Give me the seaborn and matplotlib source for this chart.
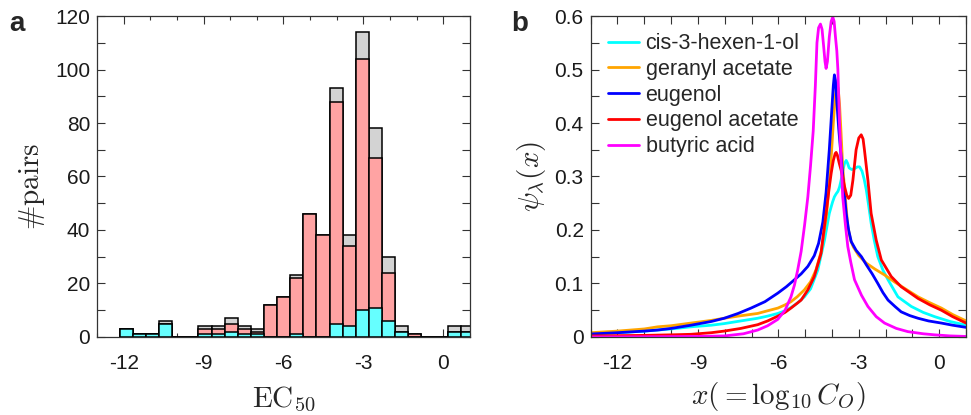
import numpy as np
import pandas as pd
import seaborn as sns
import matplotlib.pyplot as plt
from matplotlib.ticker import MultipleLocator

# ---- panel a: histogram of EC50 (bin counts) ----
bin_edges = np.linspace(-12.15, 1.15, 28)
count_all = [3, 1, 1, 6, 0, 0, 4, 4, 7, 4, 3, 12, 15, 23, 46, 38, 93, 38, 114, 78, 30, 4, 1, 0, 0, 4, 4]
count_mid = [3, 1, 1, 5, 0, 0, 3, 3, 5, 3, 2, 12, 15, 22, 46, 38, 88, 34, 104, 67, 24, 2, 1, 0, 0, 2, 2]
count_low = [3, 1, 1, 5, 0, 0, 1, 1, 2, 1, 1, 0, 0, 1, 0, 0, 5, 4, 10, 11, 6, 2, 0, 0, 0, 2, 2]

# ---- panel b: tuning curves ----
names = ["cis-3-hexen-1-ol", "geranyl acetate", "eugenol", "eugenol acetate", "butyric acid"]
colors = ["#00ffff", "#ffa500", "#0000ff", "#ff0000", "#ff00ff"]

cis_x = [-13, -12, -11, -10.5, -10, -9.26, -8.5, -8.02, -7.4, -6.77, -6.4, -6.02, -5.75, -5.53, -5.3,
         -5.03, -4.8, -4.53, -4.28, -4.1, -3.98, -3.91, -3.84, -3.78, -3.72, -3.66, -3.6, -3.53, -3.47,
         -3.42, -3.36, -3.26, -3.15, -3.05, -2.97, -2.88, -2.8, -2.72, -2.63, -2.54, -2.42, -2.29, -2.1,
         -1.91, -1.54, -1.04, -0.6, -0.17, 0.4, 1.0]
cis_y = [0.005, 0.008, 0.011, 0.013, 0.015, 0.019, 0.022, 0.025, 0.03, 0.035, 0.039, 0.044, 0.049, 0.055,
         0.063, 0.075, 0.09, 0.125, 0.181, 0.231, 0.252, 0.262, 0.268, 0.272, 0.28, 0.293, 0.31, 0.325,
         0.330, 0.325, 0.316, 0.313, 0.315, 0.318, 0.318, 0.31, 0.295, 0.275, 0.245, 0.213, 0.18, 0.150,
         0.125, 0.107, 0.075, 0.057, 0.046, 0.038, 0.029, 0.022]

ger_x = [-13, -12, -11, -10.5, -10, -9.26, -8.5, -8.02, -7.5, -6.77, -6.4, -6.02, -5.75, -5.53, -5.3,
         -5.03, -4.8, -4.6, -4.4, -4.2, -4.05, -3.95, -3.88, -3.82, -3.77, -3.72, -3.66, -3.6, -3.5,
         -3.41, -3.3, -3.2, -3.0, -2.72, -2.4, -2.04, -1.67, -1.2, -0.79, -0.35, 0.08, 0.5, 1.0]
ger_y = [0.008, 0.011, 0.015, 0.019, 0.021, 0.026, 0.031, 0.035, 0.039, 0.044, 0.049, 0.054, 0.06, 0.066,
         0.075, 0.088, 0.103, 0.125, 0.16, 0.23, 0.32, 0.40, 0.45, 0.47, 0.465, 0.437, 0.38, 0.318, 0.26,
         0.206, 0.18, 0.168, 0.152, 0.138, 0.127, 0.116, 0.103, 0.088, 0.075, 0.064, 0.054, 0.042, 0.030]

eug_x = [-13, -12, -11, -10.5, -10, -9.26, -8.5, -8.02, -7.5, -7.02, -6.5, -6.02, -5.7, -5.4, -5.15,
         -4.9, -4.66, -4.5, -4.34, -4.22, -4.1, -4.0, -3.95, -3.91, -3.87, -3.82, -3.75, -3.66, -3.56,
         -3.47, -3.38, -3.28, -3.1, -2.9, -2.72, -2.5, -2.29, -2.1, -1.91, -1.65, -1.42, -1.1, -0.79,
         -0.4, 0.08, 0.5, 1.0]
eug_y = [0.0056, 0.008, 0.011, 0.013, 0.016, 0.022, 0.029, 0.035, 0.044, 0.054, 0.066, 0.082, 0.094,
         0.107, 0.118, 0.132, 0.152, 0.175, 0.215, 0.27, 0.35, 0.43, 0.47, 0.49, 0.48, 0.44, 0.39, 0.337,
         0.28, 0.231, 0.20, 0.178, 0.162, 0.15, 0.135, 0.118, 0.1, 0.083, 0.069, 0.057, 0.047, 0.04,
         0.035, 0.03, 0.026, 0.022, 0.018]

eua_x = [-13, -11, -10, -9.26, -8.5, -8.02, -7.4, -6.77, -6.4, -6.02, -5.75, -5.53, -5.3, -5.15, -4.9,
         -4.66, -4.41, -4.22, -4.1, -4.03, -3.95, -3.88, -3.845, -3.8, -3.73, -3.66, -3.53, -3.45, -3.38,
         -3.3, -3.22, -3.1, -3.0, -2.91, -2.84, -2.79, -2.66, -2.54, -2.35, -2.16, -1.79, -1.42, -0.79,
         -0.35, 0.08, 0.5, 1.0]
eua_y = [0.002, 0.003, 0.004, 0.005, 0.008, 0.011, 0.016, 0.023, 0.03, 0.039, 0.046, 0.054, 0.063, 0.069,
         0.088, 0.113, 0.156, 0.231, 0.28, 0.306, 0.33, 0.343, 0.345, 0.34, 0.325, 0.312, 0.281, 0.265,
         0.259, 0.265, 0.293, 0.35, 0.372, 0.378, 0.37, 0.35, 0.293, 0.231, 0.181, 0.144, 0.113, 0.094,
         0.072, 0.06, 0.05, 0.038, 0.026]

but_x = [-13, -10.5, -9, -8, -7.3, -6.77, -6.4, -6.02, -5.75, -5.53, -5.4, -5.28, -5.15, -5.02, -4.9,
         -4.8, -4.7, -4.62, -4.56, -4.5, -4.43, -4.37, -4.31, -4.26, -4.22, -4.17, -4.1, -4.03, -3.97,
         -3.92, -3.87, -3.82, -3.78, -3.72, -3.66, -3.6, -3.5, -3.41, -3.3, -3.16, -2.9, -2.66, -2.35,
         -2.04, -1.6, -1.17, -0.6, -0.17, 0.4, 1.0]
but_y = [0.0, 0.0005, 0.001, 0.002, 0.006, 0.013, 0.021, 0.033, 0.05, 0.075, 0.097, 0.125, 0.16, 0.21,
         0.262, 0.32, 0.385, 0.47, 0.55, 0.578, 0.585, 0.575, 0.543, 0.515, 0.502, 0.515, 0.561, 0.59,
         0.598, 0.59, 0.561, 0.535, 0.50, 0.40, 0.33, 0.262, 0.21, 0.169, 0.14, 0.107, 0.078, 0.057,
         0.038, 0.026, 0.016, 0.010, 0.006, 0.004, 0.002, 0.001]

curves = [(cis_x, cis_y), (ger_x, ger_y), (eug_x, eug_y), (eua_x, eua_y), (but_x, but_y)]

sns.set_style("ticks")
plt.rcParams['font.family'] = ['Liberation Sans', 'DejaVu Sans']
plt.rcParams['mathtext.fontset'] = 'cm'
plt.rcParams['axes.unicode_minus'] = False

fig = plt.figure(figsize=(9.71, 4.15), dpi=100)
ax1 = fig.add_axes([0.0999, 0.188, 0.3841, 0.7734])
ax2 = fig.add_axes([0.6083, 0.188, 0.3866, 0.7734])

centers = (bin_edges[:-1] + bin_edges[1:]) / 2
for counts, col in [(count_all, "#d3d3d3"), (count_mid, "#ffa3a3"), (count_low, "#66ffff")]:
    df = pd.DataFrame({"ec50": centers, "n": counts})
    sns.histplot(data=df, x="ec50", weights="n", bins=list(bin_edges), color=col,
                 edgecolor="black", linewidth=1.1, alpha=1, ax=ax1)

for (xs, ys), name, col in zip(curves, names, colors):
    sns.lineplot(x=xs, y=ys, color=col, label=name, linewidth=2, ax=ax2)

for ax in (ax1, ax2):
    ax.set_xlim(-13, 1)
    ax.xaxis.set_major_locator(MultipleLocator(3))
    ax.xaxis.set_minor_locator(MultipleLocator(1))
    ax.tick_params(which="both", direction="in", top=True, right=True, width=0.8,
                   colors="#333333", labelcolor="#1a1a1a", labelsize=15, length=5.5)
    ax.tick_params(axis="x", which="major", pad=12)
    ax.tick_params(axis="y", which="major", pad=5)
    for s in ax.spines.values():
        s.set_color("#333333")
        s.set_linewidth(0.9)

ax1.tick_params(axis="x", which="minor", length=3)

ax1.set_ylim(0, 120)
ax1.yaxis.set_major_locator(MultipleLocator(20))
ax1.yaxis.set_minor_locator(MultipleLocator(10))
ax1.set_xlabel(r"$\mathrm{EC}_{50}$", fontsize=21, labelpad=9)
ax1.set_ylabel(r"$\#\mathrm{pairs}$", fontsize=21)
ax1.yaxis.set_label_coords(-0.135, 0.47)

ax2.set_ylim(0, 0.6)
ax2.yaxis.set_minor_locator(MultipleLocator(0.05))
ax2.set_yticks([0, 0.1, 0.2, 0.3, 0.4, 0.5, 0.6], ["0", "0.1", "0.2", "0.3", "0.4", "0.5", "0.6"])
ax2.set_xlabel(r"$x(=\log_{10} C_O)$", fontsize=21, labelpad=5)
ax2.set_ylabel(r"$\psi_\lambda(x)$", fontsize=21, labelpad=5)
ax2.legend(loc="upper left", frameon=False, fontsize=15.5, handlelength=1.45,
           labelspacing=0.22, borderaxespad=0.5, borderpad=0.3, handletextpad=0.3)

fig.text(0.010, 0.925, "a", fontsize=20, fontweight="bold")
fig.text(0.527, 0.925, "b", fontsize=20, fontweight="bold")

fig.savefig("out.png", dpi=100)
